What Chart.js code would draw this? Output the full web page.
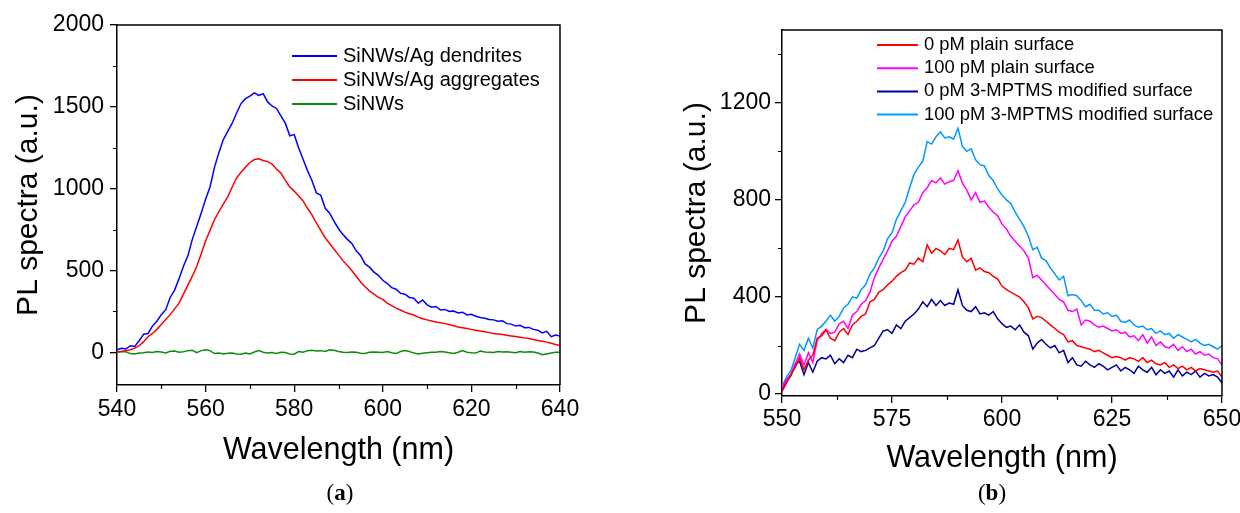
<!DOCTYPE html>
<html>
<head>
<meta charset="utf-8">
<script src="https://cdn.jsdelivr.net/npm/chart.js@4.4.1/dist/chart.umd.min.js"></script>
<style>
html, body { margin: 0; padding: 0; background: #fff; }
body { width: 1240px; height: 513px; position: relative; overflow: hidden; }
.panel { position: absolute; top: 0; width: 620px; height: 513px; }
.caption { position: absolute; top: 480px; line-height: 26px; font-family: 'Liberation Serif', 'Times New Roman', serif; font-size: 23px; color: #000; transform: translateX(-50%); }
</style>
</head>
<body>
<div class="panel" style="left:0"><canvas id="chartA" width="620" height="513"></canvas></div>
<div class="panel" style="left:620px"><canvas id="chartB" width="620" height="513"></canvas></div>
<div class="caption" style="left:340px">(<b>a</b>)</div>
<div class="caption" style="left:992px">(<b>b</b>)</div>
<script>
// ---- panel (a) ----
const wavelengthA = [
    540,541,542,543,544,545,546,547,548,549,
    550,551,552,553,554,555,556,557,558,559,
    560,561,562,563,564,565,566,567,568,569,
    570,571,572,573,574,575,576,577,578,579,
    580,581,582,583,584,585,586,587,588,589,
    590,591,592,593,594,595,596,597,598,599,
    600,601,602,603,604,605,606,607,608,609,
    610,611,612,613,614,615,616,617,618,619,
    620,621,622,623,624,625,626,627,628,629,
    630,631,632,633,634,635,636,637,638,639,
    640
];
const dendritesA = [
    15,25,20,40,35,70,110,115,160,190,
    230,260,335,380,450,526,590,690,770,850,
    935,1010,1130,1220,1300,1350,1400,1462,1520,1550,
    1565,1585,1570,1580,1530,1505,1490,1445,1400,1323,
    1330,1250,1180,1110,1050,974,960,880,850,800,
    755,720,690,665,620,590,540,520,490,470,
    440,420,395,385,360,355,335,330,300,320,
    290,275,280,258,262,250,252,240,245,228,
    232,220,212,208,200,198,190,192,175,172,
    160,165,150,152,140,135,118,128,95,105,
    100
];
const aggregatesA = [
    2,5,10,15,25,40,65,95,115,140,
    170,200,230,265,300,355,410,465,526,600,
    680,745,810,860,905,950,1010,1065,1100,1130,
    1160,1178,1182,1172,1165,1150,1120,1095,1050,1010,
    985,955,925,880,840,791,745,700,665,630,
    595,560,530,500,465,430,400,375,355,335,
    323,300,285,270,258,245,235,228,215,205,
    198,191,185,180,175,170,162,155,150,145,
    140,135,130,125,120,115,112,108,104,100,
    96,92,88,84,78,72,68,62,55,48,
    42
];
const bareA = [
    0,5,3,-8,-10,-5,-3,2,-2,4,
    2,-4,6,8,0,3,10,12,-2,10,
    15,10,-8,-5,-10,-6,-5,-10,-12,-4,
    -10,2,10,0,-5,-2,-8,0,-2,-10,
    -12,5,0,10,12,8,10,5,15,12,
    5,0,-2,2,0,-6,-8,0,2,0,
    -2,5,-3,-8,5,10,5,-5,-10,-6,
    -3,0,0,5,2,-3,-8,0,10,0,
    -3,-5,8,2,0,-2,5,2,3,0,
    -3,5,0,3,2,-5,-15,-10,-5,0,
    0
];
const labelsA = ['SiNWs/Ag dendrites', 'SiNWs/Ag aggregates', 'SiNWs'];
const colorsA = ['#0000ff', '#ff0000', '#0f8a0f'];
const xTicksA = [540, 560, 580, 600, 620, 640];
const xMinorA = [550, 570, 590, 610, 630];
const yTicksA = [0, 500, 1000, 1500, 2000];
const yMinorA = [250, 750, 1250, 1750];

// ---- panel (b) ----
const wavelengthB = [
    550,551,552,553,554,555,556,557,558,559,
    560,561,562,563,564,565,566,567,568,569,
    570,571,572,573,574,575,576,577,578,579,
    580,581,582,583,584,585,586,587,588,589,
    590,591,592,593,594,595,596,597,598,599,
    600,601,602,603,604,605,606,607,608,609,
    610,611,612,613,614,615,616,617,618,619,
    620,621,622,623,624,625,626,627,628,629,
    630,631,632,633,634,635,636,637,638,639,
    640,641,642,643,644,645,646,647,648,649,
    650
];
const plain0B = [
    10,45,80,110,150,100,140,160,230,240,
    265,230,220,255,270,245,285,300,320,330,
    380,390,420,430,450,465,485,500,510,540,
    535,560,545,615,580,600,590,575,600,595,
    635,565,545,560,510,520,505,500,485,475,
    445,430,420,410,400,380,355,310,320,315,
    300,285,270,255,245,215,220,200,195,190,
    185,175,180,170,160,150,155,150,140,150,
    145,135,150,130,140,125,120,130,110,120,
    105,115,100,110,95,105,100,95,90,95,
    70
];
const plain100B = [
    25,60,80,125,165,120,170,130,220,250,
    265,250,255,290,300,270,325,340,370,385,
    420,480,520,555,590,630,650,690,730,755,
    780,790,830,850,880,870,890,865,875,880,
    920,870,840,800,830,790,795,770,750,735,
    700,680,650,630,610,590,560,480,490,470,
    450,430,410,390,380,345,340,350,285,305,
    300,285,275,280,270,260,265,250,255,235,
    240,220,245,210,235,200,215,195,190,205,
    180,195,175,185,165,175,160,165,150,145,
    120
];
const mptms0B = [
    20,50,75,120,135,80,130,90,135,150,
    145,160,125,145,130,160,150,185,175,180,
    190,200,230,260,265,250,285,270,300,315,
    330,350,380,360,390,365,385,365,375,370,
    430,365,345,340,360,330,335,325,340,310,
    290,275,280,265,285,255,240,185,210,225,
    205,190,200,170,180,130,150,120,115,135,
    120,110,125,115,100,110,120,95,110,100,
    85,115,100,90,110,80,100,85,95,70,
    100,75,90,80,95,70,85,75,80,70,
    45
];
const mptms100B = [
    30,70,95,150,205,180,230,190,265,280,
    300,325,300,320,355,370,400,395,430,450,
    495,520,560,590,640,665,720,755,790,850,
    905,935,960,1040,1030,1060,1080,1055,1060,1050,
    1095,1020,1000,1010,965,945,940,900,880,845,
    820,800,785,750,720,690,650,595,605,560,
    550,520,495,470,485,405,410,405,385,360,
    370,345,345,330,335,320,325,300,295,305,
    285,275,280,265,270,250,260,245,250,230,
    245,235,225,215,225,210,200,205,195,185,
    200
];
const labelsB = ['0 pM plain surface', '100 pM plain surface', '0 pM 3-MPTMS modified surface', '100 pM 3-MPTMS modified surface'];
const colorsB = ['#ff0000', '#ff00ff', '#000099', '#0099ff'];
const xTicksB = [550, 575, 600, 625, 650];
const xMinorB = [562.5, 587.5, 612.5, 637.5];
const yTicksB = [0, 400, 800, 1200];
const yMinorB = [200, 600, 1000, 1400];

const FONT = "'Liberation Sans', Arial, sans-serif";

function toPoints(xs, ys) {
    return xs.map((x, i) => ({ x: x, y: ys[i] }));
}

function lineSet(label, color, xs, ys) {
    return {
        label: label, data: toPoints(xs, ys), borderColor: color, backgroundColor: color,
        borderWidth: 1.5, pointRadius: 0, tension: 0, fill: false
    };
}

// frame (top/right), minor ticks and the legend
const frameAndLegend = {
    id: 'frameAndLegend',
    afterDraw(chart, args, opts) {
        const ctx = chart.ctx, a = chart.chartArea;
        const xs = chart.scales.x, ys = chart.scales.y;
        ctx.save();
        ctx.strokeStyle = '#000';
        ctx.lineWidth = 1.5;
        ctx.beginPath();
        ctx.moveTo(a.left, a.top); ctx.lineTo(a.right, a.top); ctx.lineTo(a.right, a.bottom);
        ctx.stroke();

        ctx.lineWidth = 1.2;
        ctx.beginPath();
        opts.xMinor.forEach(v => {
            const px = Math.round(xs.getPixelForValue(v)) + 0.5;
            ctx.moveTo(px, a.bottom); ctx.lineTo(px, a.bottom + 4);
        });
        opts.yMinor.forEach(v => {
            const py = Math.round(ys.getPixelForValue(v)) + 0.5;
            ctx.moveTo(a.left, py); ctx.lineTo(a.left - 4, py);
        });
        ctx.stroke();

        ctx.font = opts.fontSize + 'px ' + FONT;
        ctx.textBaseline = 'middle';
        ctx.textAlign = 'left';
        chart.data.datasets.forEach((ds, i) => {
            const y = opts.y + i * opts.dy;
            ctx.strokeStyle = ds.borderColor;
            ctx.lineWidth = 2;
            ctx.beginPath();
            ctx.moveTo(opts.x, y); ctx.lineTo(opts.x + opts.len, y);
            ctx.stroke();
            ctx.fillStyle = '#000';
            ctx.fillText(ds.label, opts.x + opts.len + opts.gap, y);
        });
        ctx.restore();
    }
};

function makeScales(c) {
    return {
        x: {
            type: 'linear', min: c.xMin, max: c.xMax,
            afterBuildTicks: s => { s.ticks = c.xTicks.map(v => ({ value: v })); },
            afterFit: s => { s.height = c.xHeight; s.paddingLeft = 0; s.paddingRight = 0; },
            ticks: { font: { family: FONT, size: 23 }, color: '#000', padding: c.xPad, maxRotation: 0, autoSkip: false, callback: v => String(v) },
            grid: { drawOnChartArea: false, tickLength: 7, color: '#000', lineWidth: 1.3 },
            border: { color: '#000', width: 1.5 },
            title: { display: true, text: 'Wavelength (nm)', color: '#000', font: { family: FONT, size: 30.5 }, padding: { top: 0, bottom: 0 } }
        },
        y: {
            type: 'linear', min: c.yMin, max: c.yMax,
            afterBuildTicks: s => { s.ticks = c.yTicks.map(v => ({ value: v })); },
            afterFit: s => { s.width = c.yWidth; s.paddingTop = 0; s.paddingBottom = 0; },
            ticks: { font: { family: FONT, size: 23 }, color: '#000', padding: c.yPad, autoSkip: false, callback: v => String(v) },
            grid: { drawOnChartArea: false, tickLength: 7, color: '#000', lineWidth: 1.3 },
            border: { color: '#000', width: 1.5 },
            title: { display: true, text: 'PL spectra (a.u.)', color: '#000', font: { family: FONT, size: 30 }, padding: { top: c.yTitlePad, bottom: 0 } }
        }
    };
}

new Chart(document.getElementById('chartA'), {
    type: 'line',
    data: {
        datasets: [
            lineSet(labelsA[0], colorsA[0], wavelengthA, dendritesA),
            lineSet(labelsA[1], colorsA[1], wavelengthA, aggregatesA),
            lineSet(labelsA[2], colorsA[2], wavelengthA, bareA)
        ]
    },
    options: {
        responsive: false, animation: false,
        layout: { padding: { left: 0, top: 25, right: 60, bottom: 44 } },
        scales: makeScales({ xMin: 540, xMax: 640, yMin: -200, yMax: 2000, xTicks: xTicksA, yTicks: yTicksA,
            xHeight: 84, yWidth: 117, xPad: 4, yPad: 6, yTitlePad: 11 }),
        plugins: {
            legend: { display: false }, tooltip: { enabled: false },
            frameAndLegend: { xMinor: xMinorA, yMinor: yMinorA, x: 292, y: 56, dy: 24, len: 45, gap: 6, fontSize: 20 }
        }
    },
    plugins: [frameAndLegend]
});

new Chart(document.getElementById('chartB'), {
    type: 'line',
    data: {
        datasets: [
            lineSet(labelsB[0], colorsB[0], wavelengthB, plain0B),
            lineSet(labelsB[1], colorsB[1], wavelengthB, plain100B),
            lineSet(labelsB[2], colorsB[2], wavelengthB, mptms0B),
            lineSet(labelsB[3], colorsB[3], wavelengthB, mptms100B)
        ]
    },
    options: {
        responsive: false, animation: false,
        layout: { padding: { left: 0, top: 30, right: 18, bottom: 36 } },
        scales: makeScales({ xMin: 550, xMax: 650, yMin: -8, yMax: 1500, xTicks: xTicksB, yTicks: yTicksB,
            xHeight: 81, yWidth: 162, xPad: 3, yPad: 4, yTitlePad: 59 }),
        plugins: {
            legend: { display: false }, tooltip: { enabled: false },
            frameAndLegend: { xMinor: xMinorB, yMinor: yMinorB, x: 257, y: 45, dy: 23.2, len: 41, gap: 6, fontSize: 18.4 }
        }
    },
    plugins: [frameAndLegend]
});
</script>
</body>
</html>
